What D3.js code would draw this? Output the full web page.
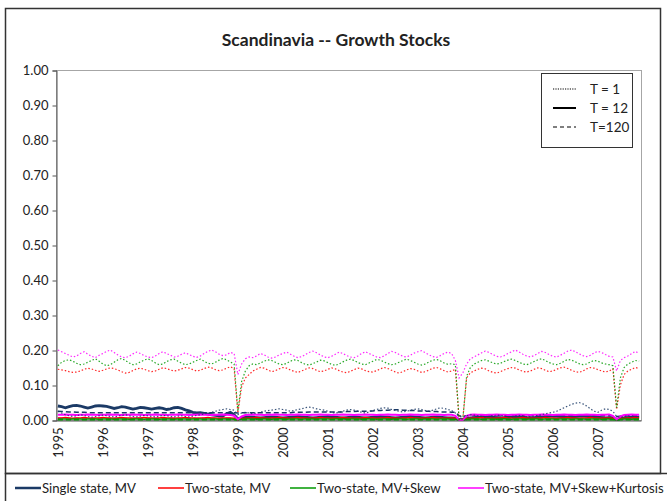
<!DOCTYPE html>
<html>
<head>
<meta charset="utf-8">
<script src="https://cdn.jsdelivr.net/npm/d3@7/dist/d3.min.js"></script>
<style>
  body { margin: 0; background: #fff; }
  text { font-family: Lato, "Open Sans", sans-serif; fill: #222; }
</style>
</head>
<body>
<div id="chart"></div>
<script>
// category labels (one per year, monthly data Jan 1995 - Dec 2007)
const years = ["1995", "1996", "1997", "1998", "1999", "2000", "2001", "2002", "2003", "2004", "2005", "2006", "2007"];
const yTicks = [0, 0.1, 0.2, 0.3, 0.4, 0.5, 0.6, 0.7, 0.8, 0.9, 1.0];

// Single state, MV
const singleT1 = [
  .025,.020,.015,.012,.010,.012,.015,.013,.010,.008,.010,.012,
  .014,.012,.010,.009,.011,.013,.015,.012,.010,.009,.011,.013,
  .012,.010,.009,.011,.013,.012,.010,.009,.011,.012,.010,.009,
  .011,.013,.015,.017,.020,.022,.025,.028,.030,.032,.030,.028,
  .015,.020,.022,.020,.018,.020,.022,.025,.027,.028,.030,.032,
  .030,.028,.025,.027,.030,.032,.035,.037,.035,.032,.030,.028,
  .025,.022,.020,.022,.025,.028,.030,.028,.025,.022,.020,.023,
  .027,.030,.033,.035,.034,.030,.027,.025,.023,.025,.028,.030,
  .032,.030,.027,.025,.028,.032,.035,.033,.030,.027,.020,.010,
  .008,.012,.015,.014,.012,.010,.009,.010,.012,.014,.013,.011,
  .010,.009,.011,.013,.012,.010,.009,.011,.013,.015,.018,.020,
  .022,.025,.030,.035,.040,.045,.048,.050,.046,.040,.032,.025,
  .022,.028,.032,.030,.025,.010,.008,.010,.012,.011,.010,.009
];
const singleT12 = [
  .040,.038,.035,.038,.041,.042,.040,.037,.034,.037,.040,.041,
  .040,.039,.036,.033,.035,.038,.037,.034,.031,.033,.036,.035,
  .033,.031,.033,.035,.033,.030,.032,.035,.036,.033,.029,.026,
  .022,.020,.021,.019,.017,.015,.013,.012,.011,.018,.022,.015,
  .003,.006,.008,.009,.008,.007,.006,.007,.008,.009,.008,.007,
  .006,.007,.008,.009,.010,.009,.008,.007,.006,.007,.008,.009,
  .010,.009,.008,.007,.006,.007,.008,.009,.008,.007,.006,.007,
  .008,.009,.010,.009,.008,.007,.006,.007,.008,.009,.010,.009,
  .008,.007,.006,.007,.008,.009,.008,.007,.006,.006,.005,.002,
  .002,.004,.006,.007,.008,.009,.010,.009,.008,.007,.006,.007,
  .008,.009,.010,.009,.008,.007,.006,.007,.008,.009,.010,.011,
  .012,.011,.010,.009,.008,.009,.010,.011,.012,.011,.010,.009,
  .008,.007,.006,.007,.006,.002,.004,.006,.007,.008,.009,.008
];
const singleT120 = [
  .025,.024,.024,.023,.023,.022,.022,.022,.021,.021,.021,.021,
  .021,.021,.021,.021,.021,.021,.021,.021,.021,.021,.021,.021,
  .021,.021,.021,.021,.021,.021,.021,.021,.021,.021,.021,.021,
  .021,.021,.021,.021,.021,.021,.021,.021,.021,.021,.021,.021,
  .020,.021,.021,.021,.021,.021,.021,.021,.021,.021,.021,.021,
  .021,.021,.021,.022,.022,.022,.022,.023,.023,.023,.023,.023,
  .023,.023,.023,.023,.023,.024,.024,.024,.025,.025,.025,.026,
  .026,.027,.027,.028,.028,.029,.029,.029,.028,.028,.027,.027,
  .026,.026,.025,.025,.024,.024,.023,.023,.023,.022,.022,.012,
  .011,.012,.012,.012,.012,.012,.012,.012,.012,.012,.012,.012,
  .012,.012,.012,.012,.012,.012,.012,.012,.012,.012,.012,.012,
  .012,.012,.012,.012,.012,.012,.012,.012,.012,.012,.012,.012,
  .012,.012,.012,.012,.012,.010,.011,.012,.012,.012,.012,.012
];

// Two-state, MV
const twoMvT1 = [
  .145,.143,.141,.138,.136,.137,.140,.145,.148,.146,.142,.139,
  .142,.146,.149,.147,.143,.138,.134,.136,.141,.146,.148,.145,
  .141,.138,.140,.145,.149,.147,.143,.140,.142,.146,.150,.148,
  .144,.140,.142,.147,.151,.149,.144,.141,.143,.148,.152,.147,
  .020,.095,.120,.130,.140,.145,.150,.148,.143,.138,.141,.146,
  .150,.148,.143,.139,.136,.140,.145,.149,.147,.142,.138,.140,
  .145,.149,.146,.141,.137,.135,.139,.144,.148,.146,.141,.138,
  .137,.141,.146,.150,.147,.142,.137,.134,.138,.143,.147,.145,
  .140,.136,.138,.143,.148,.150,.146,.141,.137,.140,.145,.002,
  .004,.120,.135,.140,.145,.148,.146,.140,.136,.134,.138,.143,
  .147,.150,.148,.143,.139,.137,.140,.145,.149,.147,.142,.138,
  .140,.145,.149,.151,.147,.142,.138,.136,.140,.146,.150,.148,
  .144,.140,.137,.140,.146,.030,.100,.130,.140,.145,.150,.147
];
const twoMvT12 = [
  .006,.006,.007,.006,.005,.006,.006,.007,.006,.005,.006,.006,
  .007,.006,.006,.005,.006,.007,.006,.006,.005,.006,.006,.007,
  .006,.006,.005,.006,.007,.006,.006,.005,.006,.006,.007,.006,
  .006,.005,.006,.006,.007,.006,.006,.005,.006,.006,.006,.005,
  .001,.004,.005,.006,.006,.007,.006,.006,.005,.006,.006,.007,
  .006,.006,.005,.006,.007,.006,.006,.005,.006,.006,.007,.006,
  .006,.005,.006,.006,.007,.006,.006,.005,.006,.006,.007,.006,
  .006,.005,.006,.006,.007,.006,.006,.005,.006,.006,.007,.006,
  .006,.005,.006,.006,.007,.006,.006,.005,.006,.006,.005,.001,
  .001,.004,.005,.006,.006,.007,.006,.006,.005,.006,.006,.007,
  .006,.006,.005,.006,.007,.006,.006,.005,.006,.006,.007,.006,
  .006,.005,.006,.006,.007,.006,.006,.005,.006,.006,.007,.006,
  .006,.005,.006,.006,.005,.001,.004,.005,.006,.006,.007,.006
];
const twoMvT120 = [
  .003,.003,.003,.003,.003,.003,.003,.003,.003,.003,.003,.003,
  .003,.003,.003,.003,.003,.003,.003,.003,.003,.003,.003,.003,
  .003,.003,.003,.003,.003,.003,.003,.003,.003,.003,.003,.003,
  .003,.003,.003,.003,.003,.003,.003,.003,.003,.003,.003,.003,
  .001,.002,.003,.003,.003,.003,.003,.003,.003,.003,.003,.003,
  .003,.003,.003,.003,.003,.003,.003,.003,.003,.003,.003,.003,
  .003,.003,.003,.003,.003,.003,.003,.003,.003,.003,.003,.003,
  .003,.003,.003,.003,.003,.003,.003,.003,.003,.003,.003,.003,
  .003,.003,.003,.003,.003,.003,.003,.003,.003,.003,.003,.001,
  .001,.002,.003,.003,.003,.003,.003,.003,.003,.003,.003,.003,
  .003,.003,.003,.003,.003,.003,.003,.003,.003,.003,.003,.003,
  .003,.003,.003,.003,.003,.003,.003,.003,.003,.003,.003,.003,
  .003,.003,.003,.003,.003,.001,.002,.003,.003,.003,.003,.003
];

// Two-state, MV+Skew
const skewT1 = [
  .155,.165,.170,.172,.168,.162,.158,.160,.165,.170,.175,.168,
  .160,.155,.158,.165,.172,.176,.170,.163,.158,.160,.166,.171,
  .175,.170,.163,.158,.160,.167,.172,.174,.168,.162,.158,.160,
  .165,.170,.174,.168,.162,.160,.165,.171,.176,.172,.166,.160,
  .025,.110,.140,.155,.160,.158,.163,.168,.172,.170,.165,.160,
  .158,.162,.168,.172,.170,.164,.159,.157,.161,.166,.171,.169,
  .164,.159,.156,.160,.166,.171,.174,.170,.164,.160,.158,.163,
  .168,.173,.171,.166,.161,.158,.160,.165,.170,.174,.170,.165,
  .160,.157,.160,.166,.171,.173,.169,.163,.159,.161,.158,.001,
  .003,.125,.150,.160,.165,.170,.172,.168,.163,.160,.162,.167,
  .171,.174,.170,.165,.160,.158,.162,.167,.172,.175,.170,.164,
  .160,.158,.162,.168,.173,.171,.166,.161,.158,.160,.166,.170,
  .168,.163,.160,.158,.155,.035,.120,.150,.160,.165,.170,.168
];
const skewT12 = [
  .003,.003,.003,.002,.003,.003,.003,.002,.003,.003,.003,.002,
  .003,.003,.003,.002,.003,.003,.003,.002,.003,.003,.003,.002,
  .003,.003,.003,.002,.003,.003,.003,.002,.003,.003,.003,.002,
  .003,.003,.003,.002,.003,.003,.003,.002,.003,.003,.003,.002,
  .001,.002,.003,.003,.003,.002,.003,.003,.003,.002,.003,.003,
  .003,.002,.003,.003,.003,.002,.003,.003,.003,.002,.003,.003,
  .003,.002,.003,.003,.003,.002,.003,.003,.003,.002,.003,.003,
  .003,.002,.003,.003,.003,.002,.003,.003,.003,.002,.003,.003,
  .003,.002,.003,.003,.003,.002,.003,.003,.003,.002,.002,.000,
  .000,.002,.003,.003,.003,.002,.003,.003,.003,.002,.003,.003,
  .003,.002,.003,.003,.003,.002,.003,.003,.003,.002,.003,.003,
  .003,.002,.003,.003,.003,.002,.003,.003,.003,.002,.003,.003,
  .003,.002,.003,.003,.002,.000,.002,.003,.003,.002,.003,.003
];
const skewT120 = [
  .001,.001,.001,.001,.001,.001,.001,.001,.001,.001,.001,.001,
  .001,.001,.001,.001,.001,.001,.001,.001,.001,.001,.001,.001,
  .001,.001,.001,.001,.001,.001,.001,.001,.001,.001,.001,.001,
  .001,.001,.001,.001,.001,.001,.001,.001,.001,.001,.001,.001,
  .000,.001,.001,.001,.001,.001,.001,.001,.001,.001,.001,.001,
  .001,.001,.001,.001,.001,.001,.001,.001,.001,.001,.001,.001,
  .001,.001,.001,.001,.001,.001,.001,.001,.001,.001,.001,.001,
  .001,.001,.001,.001,.001,.001,.001,.001,.001,.001,.001,.001,
  .001,.001,.001,.001,.001,.001,.001,.001,.001,.001,.001,.000,
  .000,.001,.001,.001,.001,.001,.001,.001,.001,.001,.001,.001,
  .001,.001,.001,.001,.001,.001,.001,.001,.001,.001,.001,.001,
  .001,.001,.001,.001,.001,.001,.001,.001,.001,.001,.001,.001,
  .001,.001,.001,.001,.001,.000,.001,.001,.001,.001,.001,.001
];

// Two-state, MV+Skew+Kurtosis
const kurtT1 = [
  .200,.195,.190,.185,.180,.183,.190,.195,.188,.182,.178,.185,
  .190,.196,.200,.193,.186,.180,.178,.182,.189,.194,.190,.184,
  .180,.178,.183,.190,.195,.190,.185,.180,.182,.188,.192,.187,
  .182,.179,.183,.190,.196,.200,.195,.188,.184,.186,.193,.190,
  .130,.160,.175,.180,.178,.183,.190,.186,.180,.177,.180,.186,
  .190,.194,.188,.182,.178,.181,.187,.193,.197,.192,.186,.180,
  .178,.182,.188,.194,.190,.184,.180,.178,.183,.190,.195,.190,
  .185,.180,.178,.183,.190,.196,.193,.187,.182,.180,.185,.191,
  .195,.198,.192,.186,.181,.179,.184,.190,.194,.190,.170,.120,
  .135,.160,.175,.180,.186,.192,.197,.193,.187,.182,.180,.184,
  .190,.195,.200,.194,.188,.183,.180,.184,.190,.196,.193,.187,
  .182,.180,.185,.191,.197,.200,.195,.189,.184,.181,.185,.192,
  .196,.193,.187,.182,.180,.140,.170,.178,.183,.190,.196,.190
];
const kurtT12 = [
  .015,.015,.016,.015,.015,.014,.015,.015,.016,.015,.015,.014,
  .015,.015,.016,.015,.015,.014,.015,.015,.016,.015,.015,.014,
  .015,.015,.016,.015,.015,.014,.015,.015,.016,.015,.015,.014,
  .015,.015,.016,.015,.015,.014,.015,.015,.016,.015,.014,.012,
  .002,.010,.014,.015,.016,.015,.015,.014,.015,.015,.016,.015,
  .015,.014,.015,.015,.016,.015,.015,.014,.015,.015,.016,.015,
  .015,.014,.015,.015,.016,.015,.015,.014,.015,.015,.016,.015,
  .015,.014,.015,.015,.016,.015,.015,.014,.015,.015,.016,.015,
  .015,.014,.015,.015,.016,.015,.015,.014,.015,.015,.012,.001,
  .001,.012,.015,.016,.015,.015,.014,.015,.015,.016,.015,.015,
  .014,.015,.015,.016,.015,.015,.014,.015,.015,.016,.015,.015,
  .014,.015,.015,.016,.015,.015,.014,.015,.015,.016,.015,.015,
  .014,.015,.015,.016,.012,.002,.010,.014,.015,.016,.015,.015
];
const kurtT120 = [
  .005,.005,.005,.005,.005,.005,.005,.005,.005,.005,.005,.005,
  .005,.005,.005,.005,.005,.005,.005,.005,.005,.005,.005,.005,
  .005,.005,.005,.005,.005,.005,.005,.005,.005,.005,.005,.005,
  .005,.005,.005,.005,.005,.005,.005,.005,.005,.005,.005,.005,
  .001,.004,.005,.005,.005,.005,.005,.005,.005,.005,.005,.005,
  .005,.005,.005,.005,.005,.005,.005,.005,.005,.005,.005,.005,
  .005,.005,.005,.005,.005,.005,.005,.005,.005,.005,.005,.005,
  .005,.005,.005,.005,.005,.005,.005,.005,.005,.005,.005,.005,
  .005,.005,.005,.005,.005,.005,.005,.005,.005,.005,.004,.001,
  .001,.004,.005,.005,.005,.005,.005,.005,.005,.005,.005,.005,
  .005,.005,.005,.005,.005,.005,.005,.005,.005,.005,.005,.005,
  .005,.005,.005,.005,.005,.005,.005,.005,.005,.005,.005,.005,
  .005,.005,.005,.005,.004,.001,.004,.005,.005,.005,.005,.005
];

const seriesNames = ["Single state, MV", "Two-state, MV", "Two-state, MV+Skew", "Two-state, MV+Skew+Kurtosis"];
const seriesColors = ["#1b3a66", "#ff0000", "#009900", "#ff00ff"];
const horizons = ["T = 1", "T = 12", "T=120"];

// table built from the arrays above
const series = [
  { s: 0, h: 2, values: singleT120 }, { s: 1, h: 2, values: twoMvT120 },
  { s: 2, h: 2, values: skewT120 }, { s: 3, h: 2, values: kurtT120 },
  { s: 0, h: 1, values: singleT12 }, { s: 1, h: 1, values: twoMvT12 },
  { s: 2, h: 1, values: skewT12 }, { s: 3, h: 1, values: kurtT12 },
  { s: 0, h: 0, values: singleT1 }, { s: 1, h: 0, values: twoMvT1 },
  { s: 2, h: 0, values: skewT1 }, { s: 3, h: 0, values: kurtT1 }
];

const W = 667, H = 501;
const plot = { left: 56, right: 641, top: 70, bottom: 420 };

const svg = d3.select("#chart").append("svg")
  .attr("width", W)
  .attr("height", H);

// outer chart border and legend box underneath
svg.append("rect")
  .attr("x", 5.5).attr("y", 8.5)
  .attr("width", 655).attr("height", 465)
  .attr("fill", "none").attr("stroke", "#333").attr("stroke-width", 1.5);
svg.append("rect")
  .attr("x", 5.5).attr("y", 473.5)
  .attr("width", 700).attr("height", 60)
  .attr("fill", "none").attr("stroke", "#333").attr("stroke-width", 1.5);

// title
svg.append("text")
  .attr("x", 336).attr("y", 46)
  .attr("text-anchor", "middle")
  .attr("font-size", "17.5px")
  .attr("font-weight", "bold")
  .text("Scandinavia -- Growth Stocks");

// scales: one category per month, points in the middle of each slot
const nMonths = singleT1.length;
const x = d3.scaleLinear().domain([-0.5, nMonths - 0.5]).range([plot.left, plot.right]);
const y = d3.scaleLinear().domain([0, 1]).range([plot.bottom, plot.top]);

// plot area frame
svg.append("rect")
  .attr("x", plot.left + 0.5).attr("y", plot.top + 0.5)
  .attr("width", plot.right - plot.left).attr("height", plot.bottom - plot.top)
  .attr("fill", "none").attr("stroke", "#a6a6a6");

// y axis
const yAxis = svg.append("g")
  .attr("transform", "translate(" + (plot.left + 0.5) + ",0.5)")
  .call(d3.axisLeft(y).tickValues(yTicks).tickFormat(d3.format(".2f")).tickSize(4).tickPadding(4));
yAxis.select(".domain").attr("stroke", "#555");
yAxis.selectAll(".tick line").attr("stroke", "#555");
yAxis.selectAll("text").attr("font-size", "13px").attr("font-family", "Lato, sans-serif").attr("fill", "#222");

// x axis with rotated year labels at each January
const yearIdx = years.map(function (d, i) { return i * 12; });
const xAxis = svg.append("g")
  .attr("transform", "translate(0," + (plot.bottom + 0.5) + ")")
  .call(d3.axisBottom(x).tickValues(yearIdx).tickFormat(function (d) { return years[d / 12]; }).tickSize(0));
xAxis.select(".domain").attr("stroke", "#555");
xAxis.selectAll("text")
  .attr("font-size", "13px").attr("font-family", "Lato, sans-serif").attr("fill", "#222")
  .attr("transform", "rotate(-90)")
  .attr("x", -7).attr("y", 0).attr("dy", "0.35em")
  .style("text-anchor", "end");

// lines
const line = d3.line()
  .x(function (d, i) { return x(i); })
  .y(function (d) { return y(d); });

const dash = ["1.5,2", null, "5,3"];
function width(d) {
  if (d.h === 0) return 1.2;
  if (d.h === 1 && d.s === 0) return 2.8;
  if (d.h === 1 && d.s === 3) return 2;
  return 1.5;
}

svg.append("g").selectAll("path").data(series).enter().append("path")
  .attr("d", function (d) { return line(d.values); })
  .attr("fill", "none")
  .attr("stroke", function (d) { return seriesColors[d.s]; })
  .attr("stroke-width", width)
  .attr("stroke-dasharray", function (d) { return dash[d.h]; })
  .attr("opacity", function (d) { return d.h === 0 ? 0.85 : 1; });

// horizon legend (top right)
const hl = svg.append("g");
hl.append("rect")
  .attr("x", 541.5).attr("y", 73.5).attr("width", 91).attr("height", 74)
  .attr("fill", "#fff").attr("stroke", "#333");
hl.selectAll("line").data(horizons).enter().append("line")
  .attr("x1", 553).attr("x2", 576)
  .attr("y1", function (d, i) { return 89 + i * 19; })
  .attr("y2", function (d, i) { return 89 + i * 19; })
  .attr("stroke", "#000")
  .attr("stroke-width", function (d, i) { return i === 1 ? 2 : 1.2; })
  .attr("stroke-dasharray", function (d, i) { return i === 0 ? "1.2,1.2" : (i === 2 ? "4,3" : null); });
hl.selectAll("text").data(horizons).enter().append("text")
  .attr("x", 590)
  .attr("y", function (d, i) { return 89 + i * 19; })
  .attr("dy", "0.35em")
  .attr("font-size", "13.5px")
  .text(function (d) { return d; });

// series legend (bottom)
const legendX = [15, 158, 290, 458];
const bl = svg.append("g");
bl.selectAll("line").data(seriesNames).enter().append("line")
  .attr("x1", function (d, i) { return legendX[i]; })
  .attr("x2", function (d, i) { return legendX[i] + 26; })
  .attr("y1", 488).attr("y2", 488)
  .attr("stroke", function (d, i) { return seriesColors[i]; })
  .attr("stroke-width", function (d, i) { return i === 0 ? 2.5 : 1.5; });
bl.selectAll("text").data(seriesNames).enter().append("text")
  .attr("x", function (d, i) { return legendX[i] + 27; })
  .attr("y", 488)
  .attr("dy", "0.35em")
  .attr("font-size", "13.2px")
  .text(function (d) { return d; });
</script>
</body>
</html>
